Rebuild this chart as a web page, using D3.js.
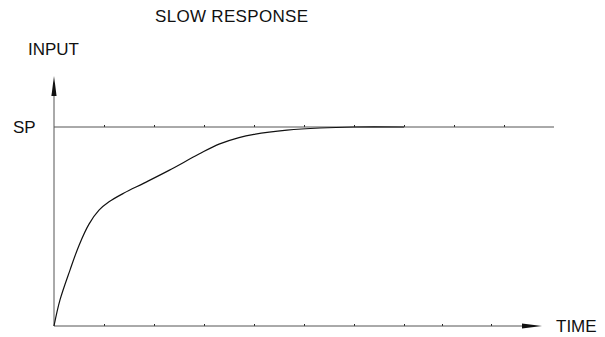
<!DOCTYPE html>
<html>
<head>
<meta charset="utf-8">
<script src="https://cdn.jsdelivr.net/npm/d3@7"></script>
<style>
  html, body { margin: 0; padding: 0; background: #fff; }
  svg { display: block; }
  text { font-family: "Liberation Sans", Arial, sans-serif; fill: #111; }
</style>
</head>
<body>
<svg id="chart" width="605" height="337"></svg>
<script>
// Process variable rising slowly toward the set point (time units, fraction of SP)
const responseTime = [0, 0.12, 0.32, 0.5, 0.7, 0.9, 1.1, 1.4, 1.8, 2.3, 2.9, 3.3, 3.7, 4.0, 4.66, 5.32, 6.0, 7.0];
const responseValue = [0, 0.131, 0.281, 0.405, 0.512, 0.582, 0.624, 0.668, 0.718, 0.782, 0.864, 0.914, 0.947, 0.963, 0.984, 0.995, 1.0, 1.0];

// Set point level and tick marks
const setPoint = 1;
const spLineEnd = 10;
const spTicks = [1, 2, 3, 4, 5, 6, 7, 8, 9];
const timeTicks = [1, 2, 3, 4, 5, 6, 7, 7.76, 8.74];
const timeAxisEnd = 9.76;
const inputAxisTop = 1.256;

const title = "SLOW RESPONSE";
const yLabel = "INPUT";
const xLabel = "TIME";
const spLabel = "SP";

const svg = d3.select("#chart");

const x = d3.scaleLinear().domain([0, 10]).range([54, 554]);
const y = d3.scaleLinear().domain([0, 1]).range([326, 127]);

const axisColor = "#555";

// Set point line with its tick marks
const spAxis = d3.axisBottom(x).tickValues(spTicks).tickSize(-2).tickSizeOuter(0).tickFormat("");
const spG = svg.append("g").attr("transform", `translate(0,${y(setPoint)})`).call(spAxis);
spG.select(".domain").remove();
spG.selectAll(".tick line").attr("stroke", "#222");
svg.append("line")
  .attr("x1", x(0)).attr("x2", x(spLineEnd))
  .attr("y1", y(setPoint)).attr("y2", y(setPoint))
  .attr("stroke", axisColor).attr("stroke-width", 1);

// Time axis with ticks and arrow
const tAxis = d3.axisBottom(x).tickValues(timeTicks).tickSize(-2).tickSizeOuter(0).tickFormat("");
const tG = svg.append("g").attr("transform", `translate(0,${y(0)})`).call(tAxis);
tG.select(".domain").remove();
tG.selectAll(".tick line").attr("stroke", "#222");
svg.append("line")
  .attr("x1", x(0)).attr("x2", x(timeAxisEnd) - 16)
  .attr("y1", y(0)).attr("y2", y(0))
  .attr("stroke", axisColor).attr("stroke-width", 1);
const tipX = x(timeAxisEnd), ay = y(0);
svg.append("path")
  .attr("d", `M${tipX},${ay} L${tipX - 20},${ay - 2.6} L${tipX - 20},${ay + 2.6} Z`)
  .attr("fill", "#111");

// Input axis with arrow
const ax = x(0), tipY = y(inputAxisTop);
svg.append("line")
  .attr("x1", ax).attr("x2", ax)
  .attr("y1", y(0)).attr("y2", tipY + 16)
  .attr("stroke", axisColor).attr("stroke-width", 1);
svg.append("path")
  .attr("d", `M${ax},${tipY} L${ax - 2.6},${tipY + 20} L${ax + 2.6},${tipY + 20} Z`)
  .attr("fill", "#111");

// Response curve
const pts = responseTime.map((t, i) => [t, responseValue[i]]);
const line = d3.line().x(d => x(d[0])).y(d => y(d[1])).curve(d3.curveCatmullRom.alpha(0.5));
svg.append("path")
  .attr("d", line(pts))
  .attr("fill", "none")
  .attr("stroke", "#111")
  .attr("stroke-width", 1.2);

// Labels
svg.append("text").attr("x", 155).attr("y", 22).attr("font-size", 17).attr("textLength", 153).text(title);
svg.append("text").attr("x", 28).attr("y", 55).attr("font-size", 17).text(yLabel);
svg.append("text").attr("x", 13).attr("y", y(setPoint)).attr("dy", "0.35em").attr("font-size", 17).text(spLabel);
svg.append("text").attr("x", 556).attr("y", y(0)).attr("dy", "0.35em").attr("font-size", 17).text(xLabel);
</script>
</body>
</html>
